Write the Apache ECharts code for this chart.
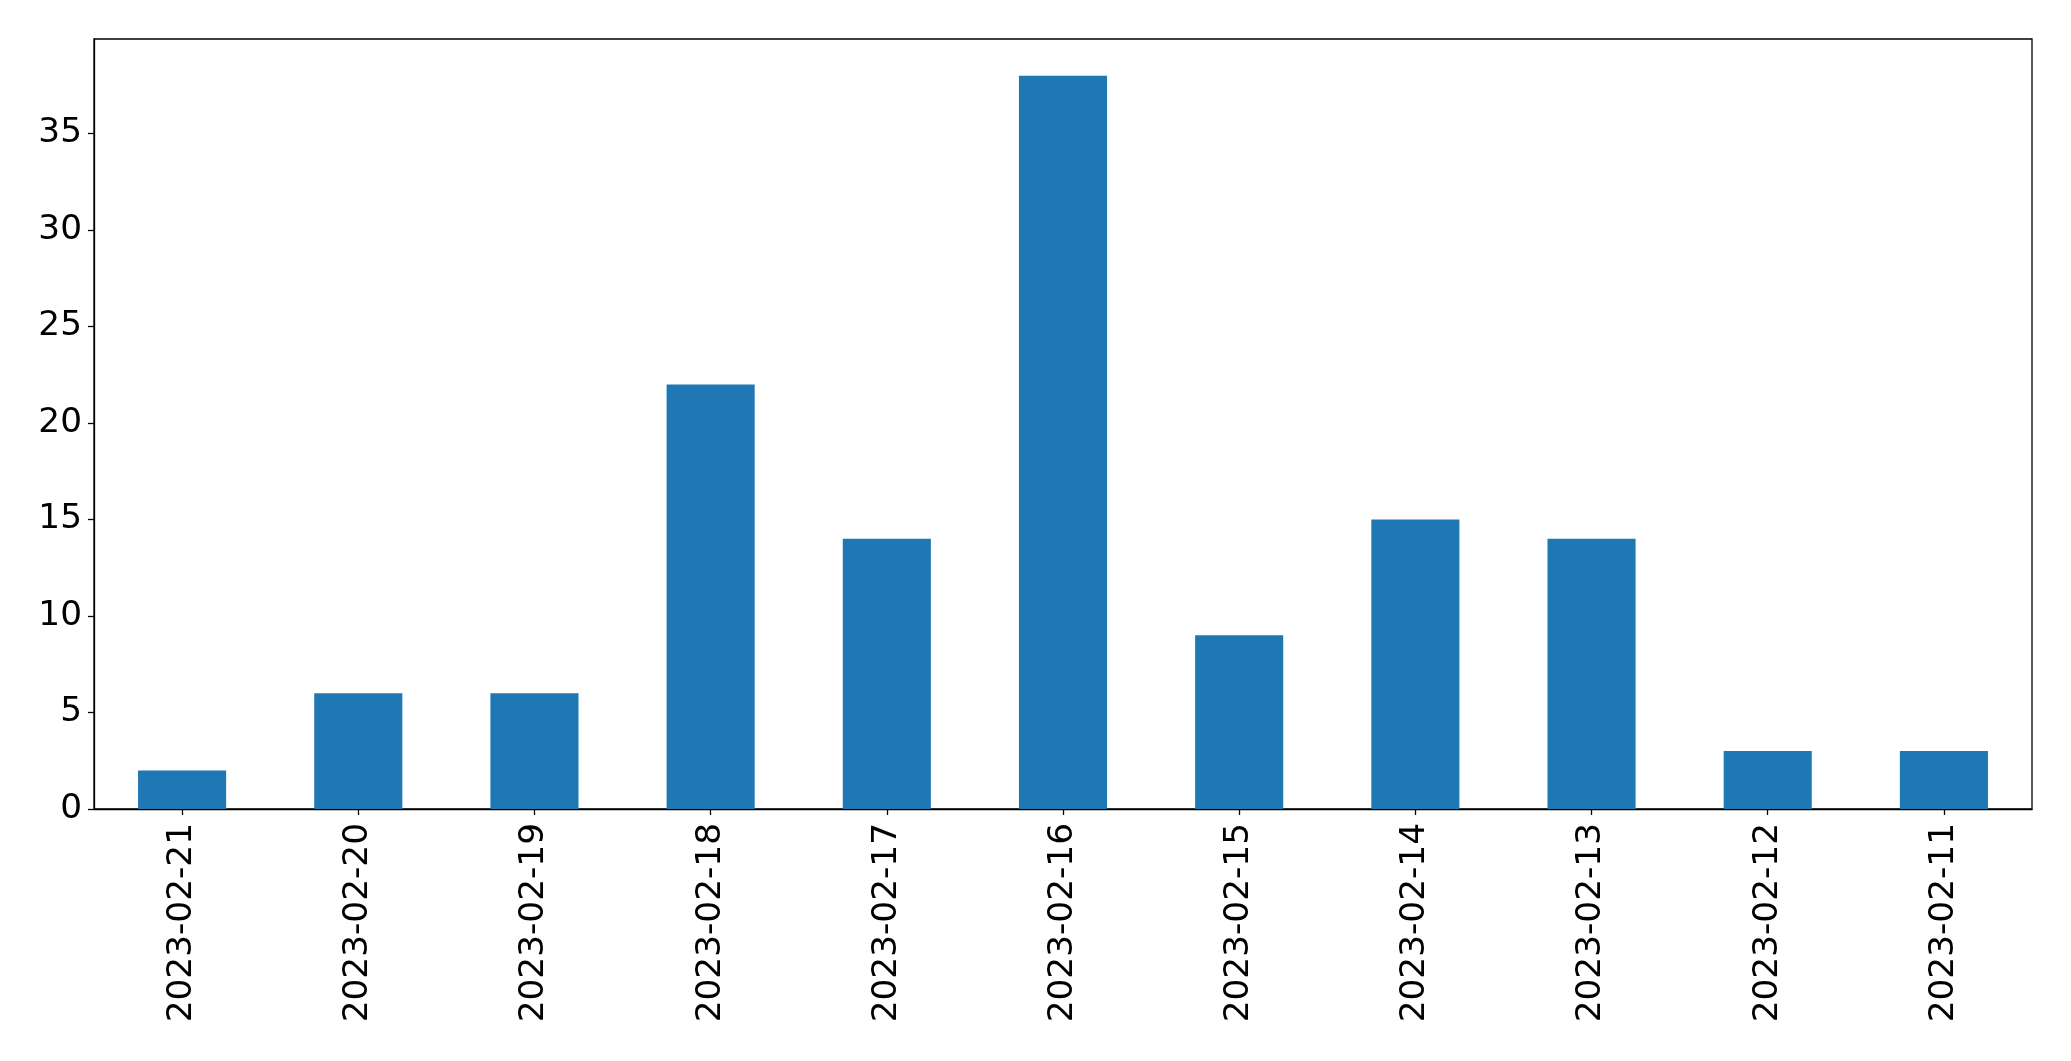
<!DOCTYPE html>
<html>
<head>
<meta charset="utf-8">
<script src="https://cdn.jsdelivr.net/npm/echarts@6/dist/echarts.min.js"></script>
<style>html,body{margin:0;padding:0;background:#fff;}#c{width:2071px;height:1061px;}</style>
</head>
<body>
<div id="c"></div>
<script>
const categories = ['2023-02-21','2023-02-20','2023-02-19','2023-02-18','2023-02-17','2023-02-16','2023-02-15','2023-02-14','2023-02-13','2023-02-12','2023-02-11'];
const values = [2, 6, 6, 22, 14, 38, 9, 15, 14, 3, 3];
const yTicks = [0, 5, 10, 15, 20, 25, 30, 35];

const chart = echarts.init(document.getElementById('c'), null, {renderer: 'canvas'});
const font = 'DejaVu Sans';
chart.setOption({
  animation: false,
  backgroundColor: '#ffffff',
  grid: {
    left: 94, right: 39, top: 39, bottom: 252,
    show: true, borderColor: '#000', borderWidth: 1.3, backgroundColor: 'transparent'
  },
  xAxis: {
    type: 'category',
    data: categories,
    axisLine: {show: true, lineStyle: {color: '#000', width: 1.3}},
    axisTick: {show: true, alignWithLabel: true, length: 6, lineStyle: {color: '#000', width: 1.3}},
    axisLabel: {rotate: 90, fontSize: 34.3, fontFamily: font, color: '#000', margin: 14, interval: 0},
    splitLine: {show: false}
  },
  yAxis: {
    type: 'value',
    min: 0, max: 39.9,
    interval: 5,
    axisLine: {show: true, lineStyle: {color: '#000', width: 1.3}},
    axisTick: {show: true, length: 6, customValues: yTicks, lineStyle: {color: '#000', width: 1.3}},
    axisLabel: {fontSize: 34.3, fontFamily: font, color: '#000', margin: 12, customValues: yTicks},
    splitLine: {show: false}
  },
  series: [{
    type: 'bar',
    data: values,
    barWidth: '50%',
    itemStyle: {color: '#1f77b4'}
  }]
});
</script>
</body>
</html>
